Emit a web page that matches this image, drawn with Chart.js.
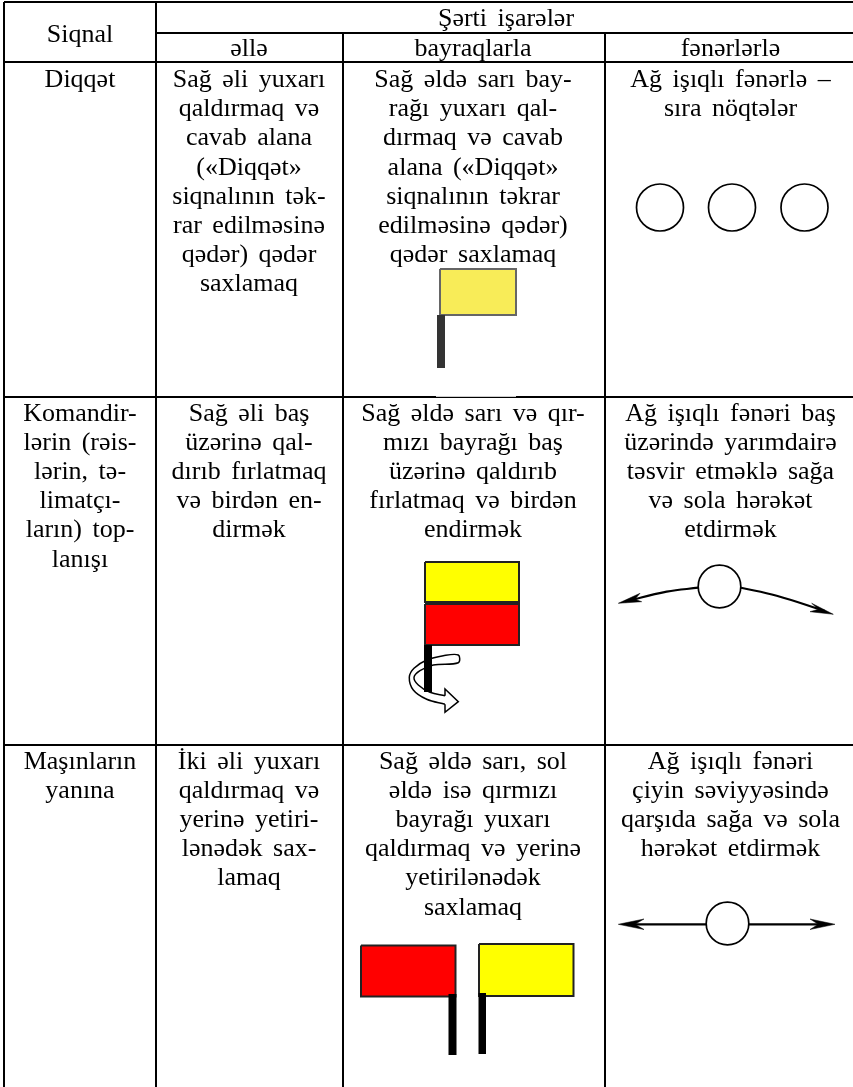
<!DOCTYPE html>
<html lang="az">
<head>
<meta charset="utf-8">
<title>Şərti işarələr</title>
<script src="https://cdn.jsdelivr.net/npm/chart.js@4/dist/chart.umd.js"></script>
<style>
  html, body { margin: 0; padding: 0; background: #fff; }
  canvas { display: block; }
</style>
</head>
<body>
<canvas id="signalTable" width="853" height="1087"></canvas>
<script>
// cell texts
const groupHeader = ['Şərti işarələr'];
const columnHeaders = ['Siqnal', 'əllə', 'bayraqlarla', 'fənərlərlə'];
const signalCells = [
    ['Diqqət'],
    ['Komandir-', 'lərin (rəis-', 'lərin, tə-', 'limatçı-', 'ların) top-', 'lanışı'],
    ['Maşınların', 'yanına']
];
const handCells = [
    ['Sağ əli yuxarı', 'qaldırmaq və', 'cavab alana', '(«Diqqət»', 'siqnalının tək-', 'rar edilməsinə', 'qədər) qədər', 'saxlamaq'],
    ['Sağ əli baş', 'üzərinə qal-', 'dırıb fırlatmaq', 'və birdən en-', 'dirmək'],
    ['İki əli yuxarı', 'qaldırmaq və', 'yerinə yetiri-', 'lənədək sax-', 'lamaq']
];
const flagCells = [
    ['Sağ əldə sarı bay-', 'rağı yuxarı qal-', 'dırmaq və cavab', 'alana («Diqqət»', 'siqnalının təkrar', 'edilməsinə qədər)', 'qədər saxlamaq'],
    ['Sağ əldə sarı və qır-', 'mızı bayrağı baş', 'üzərinə qaldırıb', 'fırlatmaq və birdən', 'endirmək'],
    ['Sağ əldə sarı, sol', 'əldə isə qırmızı', 'bayrağı yuxarı', 'qaldırmaq və yerinə', 'yetirilənədək', 'saxlamaq']
];
const lampCells = [
    ['Ağ işıqlı fənərlə –', 'sıra nöqtələr'],
    ['Ağ işıqlı fənəri baş', 'üzərində yarımdairə', 'təsvir etməklə sağa', 'və sola hərəkət', 'etdirmək'],
    ['Ağ işıqlı fənəri', 'çiyin səviyyəsində', 'qarşıda sağa və sola', 'hərəkət etdirmək']
];

// table rules, in axis units
const columnEdges = [4, 156, 343, 605];
const rowEdges = [2, 33, 62, 397, 745];
const columnCenters = [80, 249, 473, 730.5];
const rowBaselines = [87, 420.5, 768.5];
const thinRuleGap = [[436, 396.3], [516, 396.3]];

// symbols, in axis units [left, top, right, bottom]
const yellowFlags = [[440, 269, 516, 315], [425, 562, 519, 602], [479, 944, 573.5, 996]];
const redFlags = [[425, 604, 519, 645], [361, 945.5, 455.5, 996.5]];
const flagPoles = [[437, 315, 445, 368], [424, 645, 432, 692], [448.5, 994, 456.5, 1055], [478.5, 993, 486, 1054]];
const lampDots = [[660, 207.5], [732, 207.5], [804.5, 207.5]];
const lampMoving = [[719.5, 586.5], [727.5, 923.5]];

const turnBand = [
    [445, 704.3], [426.7, 699.3], [413.3, 690], [409.3, 677.3], [414, 668.3], [426.7, 660], [443.3, 655.7], [458.3, 655],
    [458.3, 662.7], [433.3, 665], [420, 670.7], [414, 677.3], [418.3, 685], [430, 692.3], [445, 695.7]
];
const turnHead = [[445, 695.7], [445, 689], [458.3, 701.7], [445, 712.3], [445, 704.3]];
const swingLeft = [[698.5, 587.7], [666.7, 591.7], [625, 601.5]];
const swingRight = [[741, 587.7], [776.7, 595.7], [825, 611]];
const swingLeftHead = [[618.3, 603.3], [640, 593.3], [635, 599.3], [641.7, 601.7], [618.3, 603.3]];
const swingRightHead = [[833.3, 614.3], [811.7, 603.3], [818.3, 609.3], [810, 611.7], [833.3, 614.3]];
const levelLeft = [[706, 924.3], [630, 924.3]];
const levelRight = [[749, 924.3], [825, 924.3]];
const levelLeftHead = [[618.3, 924.3], [644, 919], [635, 924.3], [644, 929.5], [618.3, 924.3]];
const levelRightHead = [[835, 924.3], [810, 919], [818.3, 924.3], [810, 929.5], [835, 924.3]];

const toPoints = pts => pts.map(p => ({ x: p[0], y: p[1] }));
const rectPoints = r => toPoints([[r[0], r[1]], [r[2], r[1]], [r[2], r[3]], [r[0], r[3]], [r[0], r[1]]]);

function ruleLine(pts, color, width) {
    return { data: toPoints(pts), showLine: true, borderColor: color || '#000', borderWidth: width || 2, pointRadius: 0, tension: 0 };
}

function shape(points, fillColor, edgeColor, edgeWidth, tension) {
    return {
        data: points, showLine: true, fill: 'shape', backgroundColor: fillColor,
        borderColor: edgeColor, borderWidth: edgeWidth, pointRadius: 0, tension: tension || 0
    };
}

function curve(pts) {
    return { data: toPoints(pts), showLine: true, borderColor: '#000', borderWidth: 2.2, pointRadius: 0, tension: 0.4 };
}

function lamps(pts, radius) {
    return {
        data: toPoints(pts), showLine: false, pointRadius: radius, pointStyle: 'circle',
        pointBackgroundColor: '#fff', pointBorderColor: '#000', pointBorderWidth: 1.7
    };
}

const datasets = [];
columnEdges.forEach((x, i) => {
    datasets.push(ruleLine([[x, i < 2 ? rowEdges[0] : rowEdges[1]], [x, 1087]]));
});
rowEdges.forEach((y, i) => {
    datasets.push(ruleLine([[i === 1 ? columnEdges[1] : columnEdges[0], y], [853, y]]));
});
datasets.push(ruleLine(thinRuleGap, '#fff', 1));

yellowFlags.forEach((r, i) => {
    datasets.push(shape(rectPoints(r), i === 0 ? '#f8ec58' : '#ffff00', i === 0 ? '#666' : '#222', 2));
});
redFlags.forEach(r => datasets.push(shape(rectPoints(r), '#ff0000', '#222', 2)));
datasets.push(shape(toPoints(turnBand), '#fff', '#000', 1.5, 0.35));
datasets.push(shape(toPoints(turnHead), '#fff', '#000', 1.5));
flagPoles.forEach((r, i) => {
    datasets.push(shape(rectPoints(r), i === 0 ? '#333' : '#000', i === 0 ? '#333' : '#000', 0));
});

datasets.push(curve(swingLeft), curve(swingRight), curve(levelLeft), curve(levelRight));
[swingLeftHead, swingRightHead, levelLeftHead, levelRightHead].forEach(h => {
    datasets.push(shape(toPoints(h), '#000', '#000', 0.5));
});
datasets.push(lamps(lampDots, 23.5), lamps(lampMoving, 21.3));

// later datasets on top
datasets.forEach((d, i) => { d.order = -i; d.clip = false; });

const cellText = {
    id: 'cellText',
    afterDatasetsDraw(chart) {
        const { ctx, scales } = chart;
        const put = (text, col, y) => ctx.fillText(text, scales.x.getPixelForValue(col), scales.y.getPixelForValue(y));
        ctx.save();
        ctx.font = '26px "Liberation Serif"';
        ctx.fillStyle = '#000';
        ctx.textAlign = 'center';
        ctx.textBaseline = 'alphabetic';
        ctx.wordSpacing = '4px';

        put(groupHeader[0], 506, 26);
        put(columnHeaders[0], columnCenters[0], 42);
        put(columnHeaders[1], columnCenters[1], 56);
        put(columnHeaders[2], columnCenters[2], 56);
        put(columnHeaders[3], columnCenters[3], 56);

        [signalCells, handCells, flagCells, lampCells].forEach((cells, col) => {
            cells.forEach((lines, row) => {
                lines.forEach((line, n) => put(line, columnCenters[col], rowBaselines[row] + n * 29.2));
            });
        });
        ctx.restore();
    }
};

new Chart(document.getElementById('signalTable').getContext('2d'), {
    type: 'scatter',
    data: { datasets },
    options: {
        responsive: false,
        animation: false,
        layout: { padding: 0, autoPadding: false },
        plugins: { legend: { display: false }, tooltip: { enabled: false }, title: { display: false } },
        scales: {
            x: { type: 'linear', min: 0, max: 853, display: false },
            y: { type: 'linear', min: 0, max: 1087, reverse: true, display: false }
        }
    },
    plugins: [cellText]
});
</script>
</body>
</html>
